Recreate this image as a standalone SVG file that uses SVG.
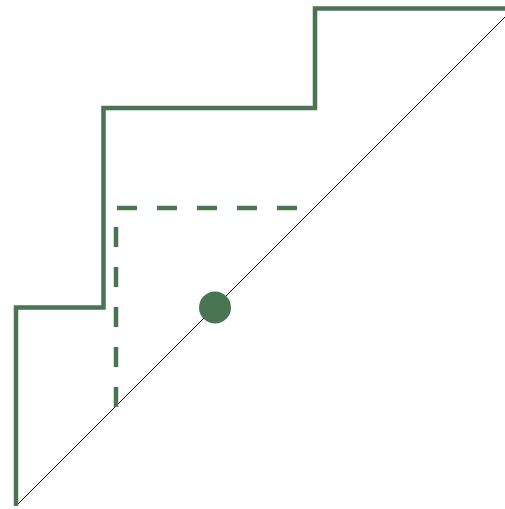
<svg xmlns="http://www.w3.org/2000/svg" width="505" height="509" viewBox="0 0 505 509">
<style>
.g{fill:none;stroke:#4a7553;stroke-width:4.5}
</style>
<rect width="505" height="509" fill="#fff"/>
<g id="connectors">
<path id="diag" d="M16,506 L505,17" stroke="#000" stroke-width="1" fill="none"/>
<path id="stair" class="g" d="M16,506 V307.5 H103.5 V108 H315 V8.5 H505"/>
<path id="dashed" class="g" stroke-dasharray="20 20" d="M116,407 V208 H315"/>
</g>
<g id="point">
<circle cx="215" cy="307.5" r="16" fill="#4a7553"/>
</g>
</svg>
